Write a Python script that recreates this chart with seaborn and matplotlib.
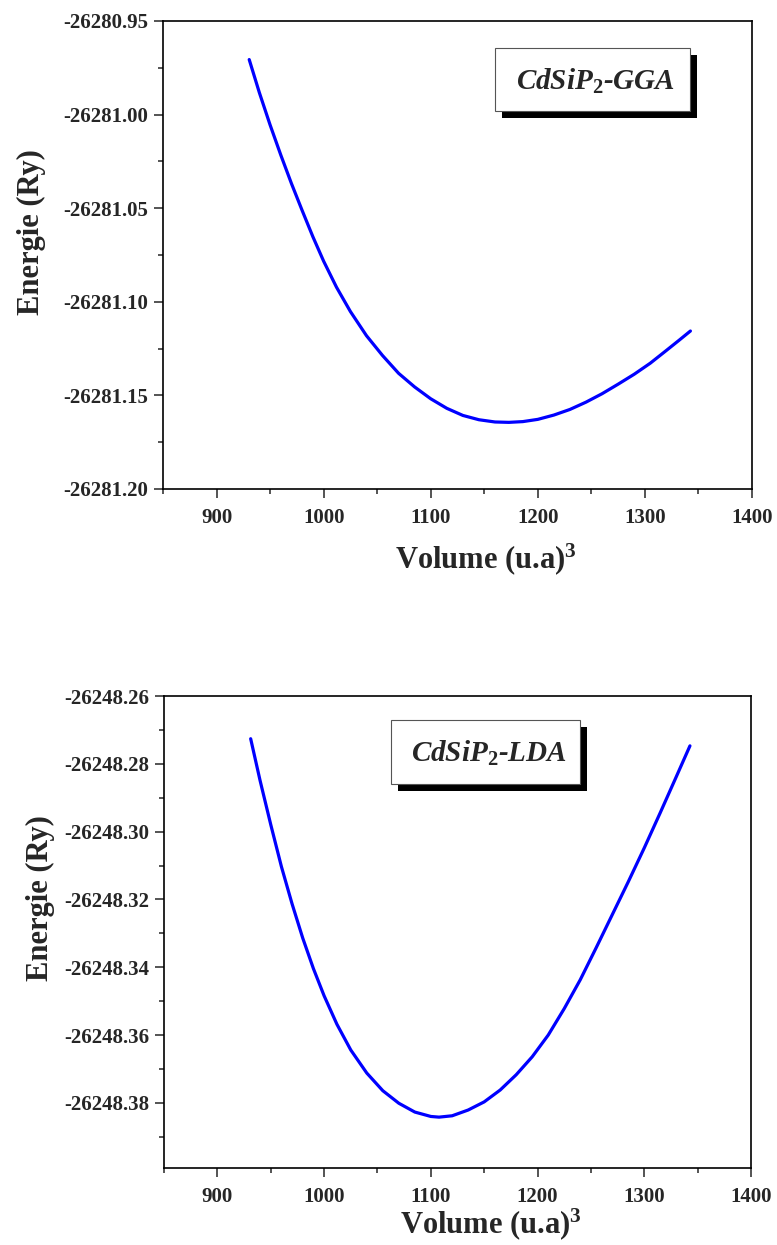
# E(V) curves for CdSiP2 (GGA / LDA), two stacked panels
import matplotlib
matplotlib.use("Agg")
import matplotlib.pyplot as plt
from matplotlib.patches import Rectangle
from matplotlib.ticker import MultipleLocator, AutoMinorLocator, FormatStrFormatter
import seaborn as sns

# ── Data ─────────────────────────────────────────────────────────────────────
V_GGA = [930.5, 940, 950, 960, 970, 980, 990, 1000, 1012, 1025, 1040, 1055,
         1070, 1085, 1100, 1115, 1130, 1145, 1160, 1173, 1186, 1200, 1215,
         1230, 1245, 1260, 1275, 1290, 1305, 1320, 1332, 1342.5]
E_GGA = [-26280.9706, -26280.9883, -26281.0055, -26281.0216, -26281.0369,
         -26281.0513, -26281.0653, -26281.0783, -26281.0922, -26281.1052,
         -26281.1181, -26281.1287, -26281.1382, -26281.1455, -26281.1518,
         -26281.1569, -26281.1607, -26281.1630, -26281.1642, -26281.1644,
         -26281.1640, -26281.1628, -26281.1605, -26281.1575, -26281.1536,
         -26281.1491, -26281.1440, -26281.1387, -26281.1328, -26281.1260,
         -26281.1205, -26281.1156]

V_LDA = [931.2, 940, 950, 960, 970, 980, 990, 1000, 1012, 1025, 1040, 1055,
         1070, 1085, 1100, 1107.7, 1120, 1135, 1150, 1165, 1180, 1195, 1210,
         1225, 1240, 1255, 1270, 1285, 1300, 1315, 1330, 1342.8]
E_LDA = [-26248.2726, -26248.2849, -26248.2979, -26248.3103, -26248.3213,
         -26248.3314, -26248.3404, -26248.3484, -26248.3568, -26248.3644,
         -26248.3712, -26248.3764, -26248.3801, -26248.3827, -26248.3840,
         -26248.3842, -26248.3838, -26248.3821, -26248.3797, -26248.3762,
         -26248.3717, -26248.3664, -26248.3600, -26248.3522, -26248.3437,
         -26248.3342, -26248.3245, -26248.3148, -26248.3048, -26248.2944,
         -26248.2838, -26248.2747]

LABELS = ["CdSiP$_2$-GGA", "CdSiP$_2$-LDA"]
XLABEL = "Volume (u.a)$^{\\mathbf{3}}$"
YLABEL = "Energie (Ry)"

W, H = 777, 1245

sns.set_style("ticks")
plt.rcParams["font.family"] = ["Liberation Serif", "DejaVu Serif"]
plt.rcParams["font.weight"] = "bold"
plt.rcParams["mathtext.fontset"] = "custom"
plt.rcParams["mathtext.rm"] = "Liberation Serif:bold"
plt.rcParams["mathtext.bf"] = "Liberation Serif:bold"
plt.rcParams["mathtext.it"] = "Liberation Serif:italic:bold"
plt.rcParams["mathtext.default"] = "it"

fig = plt.figure(figsize=(W / 100, H / 100), dpi=100)


def fx(px):
    return px / W


def fy(py):
    return 1 - py / H


def make_panel(rect_px, V, E, ylim, ystep, label_box, xlab_xy, ylab_xy):
    l, t, r, b = rect_px
    ax = fig.add_axes([fx(l), fy(b), fx(r) - fx(l), fy(t) - fy(b)])
    sns.lineplot(x=V, y=E, ax=ax, color="#0000ff", linewidth=2.3,
                 sort=False, estimator=None)
    ax.set_xlim(850, 1400)
    ax.set_ylim(*ylim)
    ax.xaxis.set_major_locator(MultipleLocator(100))
    ax.xaxis.set_minor_locator(MultipleLocator(50))
    ax.yaxis.set_major_locator(MultipleLocator(ystep))
    ax.yaxis.set_minor_locator(AutoMinorLocator(2))
    ax.yaxis.set_major_formatter(FormatStrFormatter("%.2f"))
    ax.tick_params(which="both", direction="out", top=False, right=False,
                   width=1.1, labelsize=15)
    ax.tick_params(which="major", length=6.5)
    ax.tick_params(which="minor", length=3.5)
    ax.tick_params(axis="y", pad=4)
    ax.tick_params(axis="x", pad=7)
    for s in ax.spines.values():
        s.set_linewidth(1.2)
        s.set_color("black")
    for lab in ax.get_xticklabels() + ax.get_yticklabels():
        lab.set_fontweight("bold")

    ax.set_xlabel(XLABEL, fontsize=22, fontweight="bold")
    ax.set_ylabel(YLABEL, fontsize=22, fontweight="bold")
    ax.xaxis.label.set_va("center")
    ax.yaxis.label.set_va("center")
    ax.xaxis.set_label_coords(*xlab_xy)
    ax.yaxis.set_label_coords(*ylab_xy)

    # label box with drop shadow
    text, bl, bt, br, bb, tx, ty = label_box
    off = 7
    fig.add_artist(Rectangle((fx(bl + off), fy(bb + off)), fx(br) - fx(bl),
                             fy(bt) - fy(bb), transform=fig.transFigure,
                             facecolor="black", edgecolor="none", zorder=5))
    fig.add_artist(Rectangle((fx(bl), fy(bb)), fx(br) - fx(bl),
                             fy(bt) - fy(bb), transform=fig.transFigure,
                             facecolor="white", edgecolor="#555555",
                             linewidth=0.8, zorder=6))
    fig.text(fx(tx), fy(ty), text, ha="center", va="baseline", fontsize=21,
             fontweight="bold", fontstyle="italic", zorder=7)
    return ax


make_panel((163, 21, 752, 489), V_GGA, E_GGA, (-26281.20, -26280.95), 0.05,
           (LABELS[0], 495, 48, 690, 111, 596, 90),
           (0.548, -0.150), (-0.224, 0.549))

make_panel((164, 696, 751, 1168), V_LDA, E_LDA, (-26248.3992, -26248.26), 0.02,
           (LABELS[1], 391, 720, 580, 784, 489, 762),
           (0.557, -0.118), (-0.211, 0.572))

fig.savefig("out.png", dpi=100)
